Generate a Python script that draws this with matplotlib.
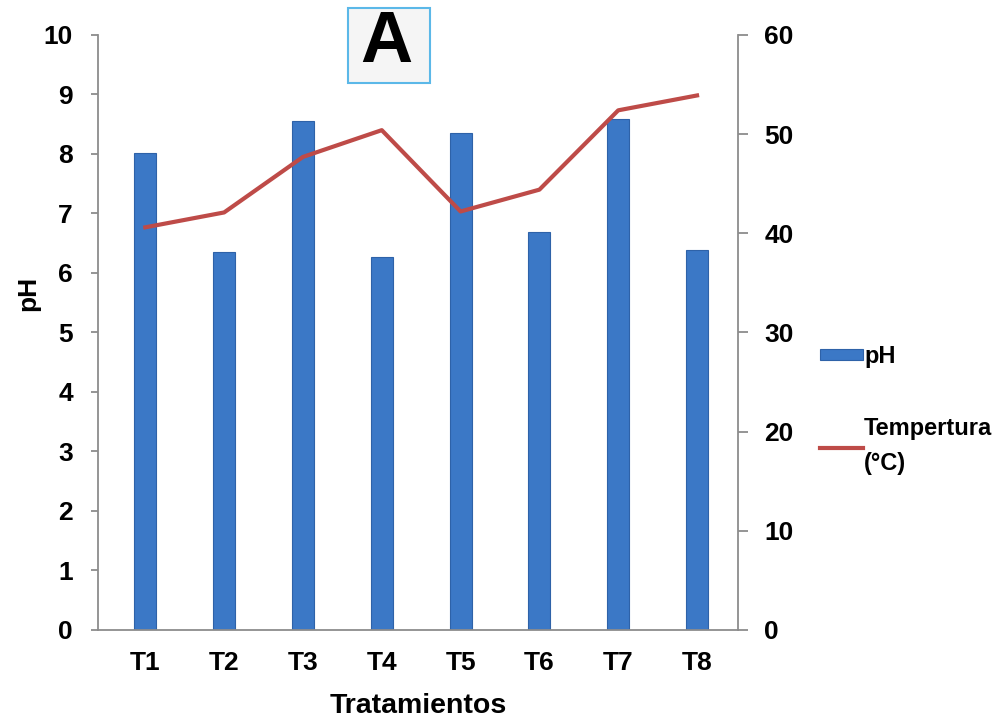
import numpy as np
import matplotlib.pyplot as plt
from matplotlib.patches import Rectangle

plt.rcParams['font.family'] = ['Liberation Sans', 'DejaVu Sans']

# Datos por tratamiento
tratamientos = ["T1", "T2", "T3", "T4", "T5", "T6", "T7", "T8"]
ph = [8.02, 6.35, 8.55, 6.27, 8.35, 6.69, 8.59, 6.39]
temperatura = [40.6, 42.1, 47.7, 50.4, 42.2, 44.4, 52.4, 53.9]

fig = plt.figure(figsize=(10.04, 7.24), dpi=100)
ax = fig.add_axes([0.0976, 0.13, 0.6375, 0.8217])
x = np.arange(len(tratamientos))

bars = ax.bar(x, ph, width=0.28, color="#3B78C6", edgecolor="#2E62A8",
              linewidth=0.8, label="pH", zorder=2)
ax.set_xlim(-0.6, 7.52)
ax.set_ylim(0, 10)
ax.set_yticks(range(0, 11))
ax.set_xticks(x)
ax.set_xticklabels(tratamientos)
ax.set_ylabel("pH", fontsize=19, fontweight="bold")
ax.yaxis.set_label_coords(-0.09, 0.565)
ax.set_xlabel("Tratamientos", fontsize=20.5, fontweight="bold", labelpad=13)

ax2 = ax.twinx()
line, = ax2.plot(x, temperatura, color="#BE4B48", linewidth=3,
                 label="Tempertura\n(°C)", zorder=3)
ax2.set_ylim(0, 60)
ax2.set_yticks(range(0, 61, 10))

for a in (ax, ax2):
    a.spines["top"].set_visible(False)
    for s in ("left", "right", "bottom"):
        a.spines[s].set_color("#8C8C8C")
        a.spines[s].set_linewidth(1.3)
ax.spines["right"].set_visible(False)
ax2.spines["left"].set_visible(False)
ax2.spines["bottom"].set_visible(False)

ax.tick_params(axis="y", direction="out", length=5, width=1.3,
               color="#8C8C8C", labelsize=19, pad=13)
ax2.tick_params(axis="y", direction="out", length=7, width=1.3,
                color="#8C8C8C", labelsize=19, pad=12)
ax.tick_params(axis="x", length=0, labelsize=19, pad=15)
for lbl in ax.get_xticklabels() + ax.get_yticklabels() + ax2.get_yticklabels():
    lbl.set_fontweight("bold")

leg = fig.legend([bars, line], ["pH", "Tempertura\n(°C)"], loc="upper left",
                 bbox_to_anchor=(0.796, 0.553), frameon=False,
                 handlelength=1.8, handleheight=0.35, handletextpad=0.05,
                 labelspacing=2.1,
                 prop={"size": 17, "weight": "bold"})
for t in leg.get_texts():
    t.set_linespacing(1.65)

# Recuadro con la letra del panel
fig.patches.append(Rectangle((0.3466, 0.8854), 0.0817, 0.1036,
                             transform=fig.transFigure, facecolor="#F5F5F5",
                             edgecolor="#5BB8E8", linewidth=1.5))
fig.text(0.3845, 0.941, "A", fontsize=52, fontweight="bold", ha="center",
         va="center")

fig.savefig("out.png", dpi=100)
